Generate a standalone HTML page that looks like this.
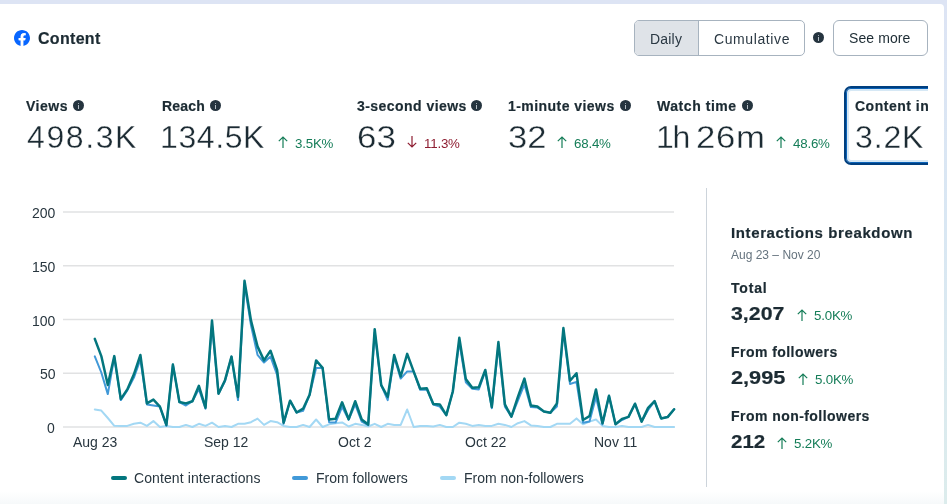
<!DOCTYPE html>
<html><head><meta charset="utf-8">
<style>
*{box-sizing:border-box;margin:0;padding:0}
html,body{width:947px;height:504px;overflow:hidden}
body{position:relative;font-family:"Liberation Sans",sans-serif;color:#1c2b33;
 background:linear-gradient(180deg,#dde4f4 0%,#d9e7f3 45%,#dcecec 100%)}
.card{position:absolute;left:-12px;top:4px;width:956px;height:501px;background:#fff;border-radius:4px}
.bfade{position:absolute;left:0;top:491px;width:944px;height:13px;background:linear-gradient(180deg,rgba(247,249,251,0) 0%,#f6f9fa 100%)}
.t{position:absolute;white-space:nowrap;line-height:1;will-change:transform}
.b{font-weight:700;-webkit-text-stroke:0.2px #1c2b33}
.fb{position:absolute;left:14px;top:29.85px;width:16px;height:16px}
.seg{position:absolute;left:634px;top:20px;width:171px;height:36px;border:1px solid #a7b3bf;border-radius:5px;overflow:hidden;background:#fff}
.seg .d{position:absolute;left:0;top:0;width:64px;height:34px;background:#dfe3e8;border-right:1px solid #a7b3bf}
.btn{position:absolute;left:833px;top:20px;width:95px;height:36px;border:1px solid #a7b3bf;border-radius:6px;background:#fff}
.info{position:absolute;width:11px;height:11px;border-radius:50%;background:#25343f}
.info:before{content:"";position:absolute;left:4.6px;top:2.6px;width:1.8px;height:1.3px;background:#9aa5ad}
.info:after{content:"";position:absolute;left:4.6px;top:4.9px;width:1.8px;height:4px;background:#b3bcc3}
.lbl{font-size:14px;font-weight:700;color:#1c2b33;-webkit-text-stroke:0.2px #1c2b33}
.num{font-size:32px;color:#1c2b33;-webkit-text-stroke:0.35px #fff}
.up{color:#157d58;font-size:13.3px;letter-spacing:-0.2px}
.dn{color:#8e1d31;font-size:13.3px;letter-spacing:-0.2px}
.clip{position:absolute;left:0;top:80px;width:928px;height:95px;overflow:hidden}
.sel{position:absolute;left:844px;top:6px;width:110px;height:79px;border:2px solid #003f7f;border-radius:7px;box-shadow:inset 0 0 0 1px #0a62b8,inset 0 0 0 3px #d6e8f5}
.ax{font-size:14px;color:#28363f}
.leg{font-size:14px;color:#28363f}
.sw{position:absolute;width:16px;height:4px;border-radius:2px;top:476px}
.div{position:absolute;left:706px;top:188px;width:1px;height:299px;background:#cdd4db}
.grey{color:#65737e}
.arr{position:absolute;width:10px;height:12px;overflow:visible}
.arr path{fill:none;stroke-width:1.2;stroke-linecap:butt;stroke-linejoin:miter}
.arr.g path{stroke:#157d58}
.arr.r path{stroke:#8e1d31}
</style></head><body>
<div class="card"></div>
<div class="bfade"></div>

<svg class="fb" viewBox="0 0 1024 1024"><path fill="#0866ff" d="M1024 512C1024 229.23 794.77 0 512 0S0 229.23 0 512c0 255.55 187.23 467.37 432 505.78V660H302V512H432V399.2C432 270.88 508.44 200 625.39 200c56 0 114.61 10 114.61 10V336H675.44c-63.6 0-83.44 39.47-83.44 79.96V512H734L711.3 660H592v357.78C836.77 979.37 1024 767.55 1024 512Z"/><path fill="#fff" d="M711.3 660 734 512H592V415.96C592 375.47 611.84 336 675.44 336H740V210s-58.59-10-114.61-10C508.44 200 432 270.88 432 399.2V512H302V660H432v357.78a517.4 517.4 0 0 0 160 0V660Z"/></svg>
<div class="t b" style="left:38px;top:30.5px;font-size:16px;letter-spacing:0.3px">Content</div>

<div class="seg"><div class="d"></div></div>
<div class="t" style="left:650px;top:31.5px;font-size:14px;color:#2a3843;letter-spacing:0.2px">Daily</div>
<div class="t" style="left:714px;top:31.5px;font-size:14px;color:#2a3843;letter-spacing:0.6px">Cumulative</div>
<div class="info" style="left:813px;top:32px"></div>
<div class="btn"></div>
<div class="t" style="left:849px;top:31px;font-size:14px;color:#1c2b33;letter-spacing:0.1px">See more</div>

<div class="clip">
 <div class="t lbl" style="left:26px;top:19px;letter-spacing:0.5px">Views</div><div class="info" style="left:73px;top:20px"></div>
 <div class="t num" style="left:27px;top:41px;letter-spacing:1.6px">498.3K</div>

 <div class="t lbl" style="left:162px;top:19px;letter-spacing:0.2px">Reach</div><div class="info" style="left:210px;top:20px"></div>
 <div class="t num" style="left:160px;top:41px;letter-spacing:0.6px">134.5K</div>
 <svg class="arr g" style="left:278px;top:56px" viewBox="0 0 10 12"><path d="M5 1.2V12M0.8 5.2L5 1L9.2 5.2"/></svg><div class="t up" style="left:295px;top:56.5px">3.5K%</div>

 <div class="t lbl" style="left:357px;top:19px;letter-spacing:0.45px">3-second views</div><div class="info" style="left:471px;top:20px"></div>
 <div class="t num" style="left:357px;top:41px;transform:scaleX(1.09);transform-origin:0 0">63</div>
 <svg class="arr r" style="left:407px;top:56px" viewBox="0 0 10 12"><path d="M5 0V10.8M0.8 6.8L5 11L9.2 6.8"/></svg><div class="t dn" style="left:424px;top:56.5px">11.3%</div>

 <div class="t lbl" style="left:508px;top:19px;letter-spacing:0.45px">1-minute views</div><div class="info" style="left:620px;top:20px"></div>
 <div class="t num" style="left:507.5px;top:41px;transform:scaleX(1.08);transform-origin:0 0">32</div>
 <svg class="arr g" style="left:557px;top:56px" viewBox="0 0 10 12"><path d="M5 1.2V12M0.8 5.2L5 1L9.2 5.2"/></svg><div class="t up" style="left:574px;top:56.5px">68.4%</div>

 <div class="t lbl" style="left:657px;top:19px;letter-spacing:0.55px">Watch time</div><div class="info" style="left:742px;top:20px"></div>
 <div class="t num" style="left:655.5px;top:41px;letter-spacing:-1.2px">1h</div><div class="t num" style="left:696px;top:41px;letter-spacing:0.6px;transform:scaleX(1.085);transform-origin:0 0">26m</div>
 <svg class="arr g" style="left:776px;top:56px" viewBox="0 0 10 12"><path d="M5 1.2V12M0.8 5.2L5 1L9.2 5.2"/></svg><div class="t up" style="left:793px;top:56.5px">48.6%</div>

 <div class="sel"></div>
 <div class="t lbl" style="left:855px;top:19px;letter-spacing:0.5px">Content interactions</div>
 <div class="t num" style="left:854.5px;top:41px;letter-spacing:0.85px">3.2K</div>
</div>

<svg style="position:absolute;left:0;top:0" width="947" height="504">
 <g stroke="#e1e2e3" stroke-width="1.5">
  <line x1="63" y1="212" x2="674" y2="212"/>
  <line x1="63" y1="265.75" x2="674" y2="265.75"/>
  <line x1="63" y1="319.5" x2="674" y2="319.5"/>
  <line x1="63" y1="373.25" x2="674" y2="373.25"/>
  <line x1="63" y1="427" x2="674" y2="427"/>
 </g>
 <polyline fill="none" stroke="#a3d8f4" stroke-width="2" stroke-linejoin="round" stroke-linecap="round" points="94.8,409.5 101.3,410.6 107.8,418.0 114.3,425.8 120.8,425.9 127.3,425.9 133.9,423.8 140.4,422.7 146.9,425.9 153.4,421.1 159.9,427.0 166.4,425.9 172.9,427.0 179.4,427.0 185.9,424.9 192.4,427.0 198.9,423.8 205.5,425.9 212.0,422.7 218.5,427.0 225.0,425.9 231.5,427.0 238.0,423.8 244.5,423.8 251.0,422.2 257.5,418.6 264.0,424.9 270.5,421.1 277.1,422.2 283.6,425.9 290.1,427.0 296.6,427.0 303.1,424.9 309.6,427.0 316.1,419.5 322.6,427.0 329.1,424.3 335.6,423.2 342.1,422.4 348.7,426.5 355.2,423.8 361.7,424.9 368.2,426.5 374.7,423.8 381.2,427.0 387.7,423.8 394.2,424.9 400.7,424.9 407.2,409.5 413.7,427.0 420.2,425.9 426.8,425.9 433.3,426.5 439.8,424.9 446.3,427.0 452.8,427.0 459.3,422.7 465.8,423.8 472.3,425.9 478.8,424.9 485.3,425.9 491.8,425.9 498.4,423.8 504.9,424.9 511.4,427.0 517.9,423.2 524.4,421.1 530.9,425.4 537.4,425.9 543.9,427.0 550.4,427.0 556.9,423.8 563.4,423.8 570.0,423.8 576.5,418.4 583.0,424.3 589.5,421.6 596.0,419.5 602.5,425.9 609.0,427.0 615.5,427.0 622.0,425.9 628.5,427.0 635.0,427.0 641.6,427.0 648.1,424.9 654.6,427.0 661.1,427.0 667.6,427.0 674.1,427.0"/>
 <polyline fill="none" stroke="#4199d8" stroke-width="2" stroke-linejoin="round" stroke-linecap="round" points="94.8,356.4 101.3,372.5 107.8,394.1 114.3,357.2 120.8,400.1 127.3,390.4 133.9,377.6 140.4,359.3 146.9,404.4 153.4,405.5 159.9,406.6 166.4,425.9 172.9,364.6 179.4,402.0 185.9,405.5 192.4,401.2 198.9,389.1 205.5,408.7 212.0,324.9 218.5,393.7 225.0,381.3 231.5,356.6 238.0,400.1 244.5,284.0 251.0,325.4 257.5,354.8 264.0,362.5 270.5,356.6 277.1,374.9 283.6,423.8 290.1,400.7 296.6,412.5 303.1,410.9 309.6,394.8 316.1,367.9 322.6,367.9 329.1,422.2 335.6,422.5 342.1,406.9 348.7,419.7 355.2,404.4 361.7,421.6 368.2,425.2 374.7,332.4 381.2,385.1 387.7,400.1 394.2,357.1 400.7,378.6 407.2,371.4 413.7,371.6 420.2,389.8 426.8,389.4 433.3,404.5 439.8,406.6 446.3,415.2 452.8,391.5 459.3,342.1 465.8,382.2 472.3,388.8 478.8,389.4 485.3,371.1 491.8,408.2 498.4,345.3 504.9,406.6 511.4,416.7 517.9,400.7 524.4,384.5 530.9,407.1 537.4,407.6 543.9,411.5 550.4,412.7 556.9,406.6 563.4,331.3 570.0,384.0 576.5,381.9 583.0,422.7 589.5,421.6 596.0,396.9 602.5,424.4 609.0,395.8 615.5,424.3 622.0,420.0 628.5,416.9 635.0,403.7 641.6,421.6 648.1,410.0 654.6,401.2 661.1,418.4 667.6,417.1 674.1,409.3"/>
 <polyline fill="none" stroke="#03767e" stroke-width="2.5" stroke-linejoin="round" stroke-linecap="round" points="94.8,338.9 101.3,356.1 107.8,385.1 114.3,356.1 120.8,399.1 127.3,389.4 133.9,374.3 140.4,355.0 146.9,403.4 153.4,399.6 159.9,406.6 166.4,424.9 172.9,364.6 179.4,402.0 185.9,403.4 192.4,401.2 198.9,385.8 205.5,407.6 212.0,320.6 218.5,393.7 225.0,380.2 231.5,356.6 238.0,396.9 244.5,280.8 251.0,320.6 257.5,346.4 264.0,360.4 270.5,350.7 277.1,370.0 283.6,422.7 290.1,400.7 296.6,412.5 303.1,408.7 309.6,394.8 316.1,360.4 322.6,367.9 329.1,419.5 335.6,418.7 342.1,402.3 348.7,419.2 355.2,401.2 361.7,419.5 368.2,424.6 374.7,329.2 381.2,385.1 387.7,396.9 394.2,355.0 400.7,376.5 407.2,353.9 413.7,371.6 420.2,388.7 426.8,388.3 433.3,404.0 439.8,404.4 446.3,415.2 452.8,391.5 459.3,337.8 465.8,378.9 472.3,387.8 478.8,387.2 485.3,370.0 491.8,407.1 498.4,342.1 504.9,404.4 511.4,416.7 517.9,396.9 524.4,378.6 530.9,405.5 537.4,406.6 543.9,411.5 550.4,412.7 556.9,403.4 563.4,328.1 570.0,380.8 576.5,373.2 583.0,420.0 589.5,416.2 596.0,389.4 602.5,423.3 609.0,395.8 615.5,424.3 622.0,418.9 628.5,416.9 635.0,403.7 641.6,421.6 648.1,407.9 654.6,401.2 661.1,418.4 667.6,417.1 674.1,409.3"/>
</svg>
<div class="t ax" style="left:32px;top:205.5px">200</div>
<div class="t ax" style="left:32px;top:259.5px">150</div>
<div class="t ax" style="left:32px;top:313.5px">100</div>
<div class="t ax" style="left:40px;top:366.5px">50</div>
<div class="t ax" style="left:47px;top:420.5px">0</div>
<div class="t ax" style="left:73px;top:435px">Aug 23</div>
<div class="t ax" style="left:204px;top:435px">Sep 12</div>
<div class="t ax" style="left:338px;top:435px">Oct 2</div>
<div class="t ax" style="left:465px;top:435px">Oct 22</div>
<div class="t ax" style="left:594px;top:435px">Nov 11</div>

<div class="sw" style="left:111px;background:#03767e"></div>
<div class="t leg" style="left:134px;top:471px;letter-spacing:0.1px">Content interactions</div>
<div class="sw" style="left:292px;background:#4199d8"></div>
<div class="t leg" style="left:316px;top:471px">From followers</div>
<div class="sw" style="left:440px;background:#a3d8f4"></div>
<div class="t leg" style="left:464px;top:471px">From non-followers</div>

<div class="div"></div>
<div class="t b" style="left:731px;top:225px;font-size:15px;letter-spacing:0.62px">Interactions breakdown</div>
<div class="t grey" style="left:731px;top:249px;font-size:12px">Aug 23 – Nov 20</div>
<div class="t b" style="left:731px;top:281px;font-size:14px;letter-spacing:0.8px">Total</div>
<div class="t b" style="left:731px;top:305px;font-size:18px;transform:scaleX(1.185);transform-origin:0 0">3,207</div>
<svg class="arr g" style="left:797px;top:309px" viewBox="0 0 10 12"><path d="M5 1.2V12M0.8 5.2L5 1L9.2 5.2"/></svg><div class="t up" style="left:814px;top:309px">5.0K%</div>
<div class="t b" style="left:731px;top:345px;font-size:14px;letter-spacing:0.45px">From followers</div>
<div class="t b" style="left:731px;top:369px;font-size:18px;transform:scaleX(1.205);transform-origin:0 0">2,995</div>
<svg class="arr g" style="left:798px;top:373px" viewBox="0 0 10 12"><path d="M5 1.2V12M0.8 5.2L5 1L9.2 5.2"/></svg><div class="t up" style="left:815px;top:373px">5.0K%</div>
<div class="t b" style="left:731px;top:409px;font-size:14px;letter-spacing:0.45px">From non-followers</div>
<div class="t b" style="left:731px;top:433px;font-size:18px;transform:scaleX(1.14);transform-origin:0 0">212</div>
<svg class="arr g" style="left:777px;top:437px" viewBox="0 0 10 12"><path d="M5 1.2V12M0.8 5.2L5 1L9.2 5.2"/></svg><div class="t up" style="left:794px;top:437px">5.2K%</div>
</body></html>
